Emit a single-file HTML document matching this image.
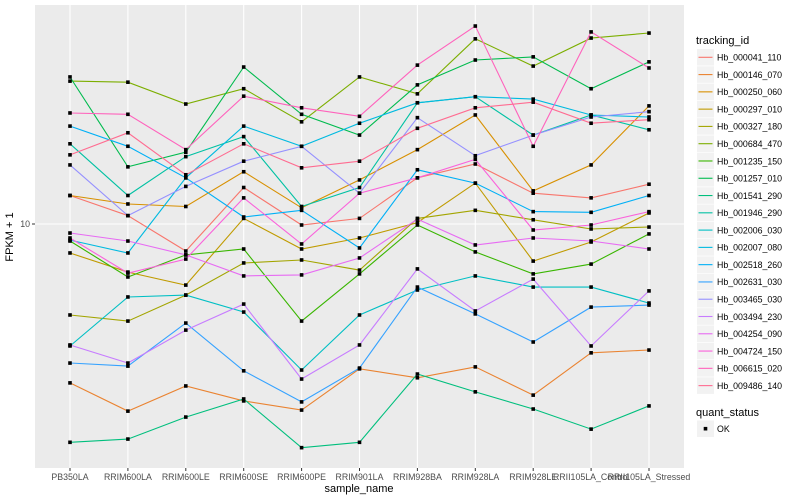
<!DOCTYPE html>
<html><head><meta charset="utf-8">
<style>
body{margin:0;background:#fff;}
svg{display:block;font-family:"Liberation Sans",sans-serif;}
</style></head>
<body>
<svg id="chart" width="800" height="500" viewBox="0 0 800 500">
  <rect x="0" y="0" width="800" height="500" fill="#fff"/>
  <rect x="35" y="5" width="649" height="463" fill="#EBEBEB"/>
  <g id="grid"></g>
  <g id="series"></g>
  <g id="axes"></g>
  <text x="13" y="237" transform="rotate(-90 13 237)" text-anchor="middle" font-size="11" fill="#000">FPKM + 1</text>
  <text x="359" y="492" text-anchor="middle" font-size="11" fill="#000">sample_name</text>
  <g id="legend"></g>
</svg>
<script>
const categories = ["PB350LA","RRIM600LA","RRIM600LE","RRIM600SE","RRIM600PE","RRIM901LA","RRIM928BA","RRIM928LA","RRIM928LE","RRII105LA_Control","RRII105LA_Stressed"];
const seriesNames = ["Hb_000041_110","Hb_000146_070","Hb_000250_060","Hb_000297_010","Hb_000327_180","Hb_000684_470","Hb_001235_150","Hb_001257_010","Hb_001541_290","Hb_001946_290","Hb_002006_030","Hb_002007_080","Hb_002518_260","Hb_002631_030","Hb_003465_030","Hb_003494_230","Hb_004254_090","Hb_004724_150","Hb_006615_020","Hb_009486_140"];
const seriesColors = ["#F8766D","#EA8331","#D89000","#C09B00","#A3A500","#7CAE00","#39B600","#00BB4E","#00BF7D","#00C1A3","#00BFC4","#00BAE0","#00B0F6","#35A2FF","#9590FF","#C77CFF","#E76BF3","#FA62DB","#FF62BC","#FF6C91"];
const s000041_110 = [12.2,10.6,8.28,12.9,9.93,10.4,13.8,15.2,12.4,12.0,13.2];
const s000146_070 = [3.30,2.71,3.23,2.91,2.73,3.64,3.42,3.69,3.03,4.07,4.15];
const s000250_060 = [12.2,11.5,11.3,14.4,11.2,13.6,16.8,21.4,12.6,15.1,22.8];
const s000297_010 = [8.17,7.15,6.53,10.4,8.40,9.07,10.1,13.3,7.72,8.82,10.8];
const s000327_180 = [5.30,5.08,6.09,7.62,7.78,7.25,10.4,11.0,10.3,9.66,9.79];
const s000684_470 = [27.1,26.9,23.1,25.7,20.4,27.9,24.8,36.4,30.1,36.6,37.9];
const s001235_150 = [8.88,6.91,8.06,8.40,5.08,7.06,9.93,8.23,7.06,7.56,9.33];
const s001257_010 = [27.9,14.9,16.5,29.9,21.5,18.6,26.4,31.4,32.1,25.7,31.0];
const s001541_290 = [2.18,2.23,2.60,2.95,2.10,2.18,3.51,3.10,2.75,2.39,2.81];
const s001946_290 = [17.5,12.2,16.0,18.4,11.3,12.9,23.3,24.3,18.6,21.4,19.3];
const s002006_030 = [4.27,6.01,6.09,5.41,3.61,5.30,6.31,6.96,6.44,6.44,5.76];
const s002007_080 = [8.94,8.17,13.8,19.8,17.2,20.2,23.3,24.3,23.9,21.4,21.1];
const s002518_260 = [19.8,17.2,13.8,10.5,11.0,8.46,14.6,13.3,10.9,10.85,12.2];
const s002631_030 = [3.79,3.71,5.01,3.59,2.89,3.66,6.44,5.34,4.39,5.60,5.68];
const s003465_030 = [15.1,10.6,13.0,15.5,17.2,12.4,21.0,16.1,18.6,21.1,21.9];
const s003494_230 = [4.30,3.79,4.77,5.72,3.39,4.30,7.31,5.45,6.81,4.27,6.27];
const s004254_090 = [9.39,8.88,8.06,6.96,7.01,7.89,10.35,8.64,9.07,8.88,8.40];
const s004724_150 = [9.07,7.10,7.83,12.0,8.70,12.4,13.8,15.7,9.59,9.93,10.9];
const s006615_020 = [21.7,21.5,16.8,24.4,22.5,21.2,30.3,39.8,17.2,38.2,29.7];
const s009486_140 = [16.2,18.9,14.1,17.5,14.8,15.5,19.5,22.5,23.4,20.2,20.7];
const seriesValues = [s000041_110,s000146_070,s000250_060,s000297_010,s000327_180,s000684_470,s001235_150,s001257_010,s001541_290,s001946_290,s002006_030,s002007_080,s002518_260,s002631_030,s003465_030,s003494_230,s004254_090,s004724_150,s006615_020,s009486_140];
const yTicks = [10];
const yTickLabels = ["10"];

const NS = "http://www.w3.org/2000/svg";
function xScale(i){ return 70 + i * 57.9; }
function yScale(v){ return 224 - 330 * (Math.log10(v) - 1); }
function mk(tag, attrs, parent){
  const e = document.createElementNS(NS, tag);
  for (const k in attrs) e.setAttribute(k, attrs[k]);
  parent.appendChild(e);
  return e;
}
const grid = document.getElementById('grid');
const axes = document.getElementById('axes');
const series = document.getElementById('series');
const legend = document.getElementById('legend');

categories.forEach((c, i) => {
  const x = xScale(i);
  const gl = mk('line', {x1:x, x2:x, y1:5, y2:468, stroke:'#fff', 'stroke-width':1.1}, grid);
  
  
  const tk = mk('line', {x1:x, x2:x, y1:468, y2:471, stroke:'#333', 'stroke-width':1}, axes);
  
  
  const t = mk('text', {x:x, y:480, 'text-anchor':'middle', 'font-size':'8.8', fill:'#4D4D4D'}, axes);
  t.textContent = c;
  
  
});
yTicks.forEach((v, i) => {
  const y = yScale(v);
  const gl = mk('line', {x1:35, x2:684, y1:y, y2:y, stroke:'#fff', 'stroke-width':1.1}, grid);
  
  
  const tk = mk('line', {x1:32, x2:35, y1:y, y2:y, stroke:'#333', 'stroke-width':1}, axes);
  
  
  const t = mk('text', {x:30, y:y+3.2, 'text-anchor':'end', 'font-size':'8.8', fill:'#4D4D4D'}, axes);
  t.textContent = yTickLabels[i];
  
  
});

seriesValues.forEach((vals, si) => {
  const g = mk('g', {}, series);
  
  
  const pts = vals.map((v, i) => xScale(i).toFixed(1) + ',' + yScale(v).toFixed(1)).join(' ');
  const pl = mk('polyline', {points:pts, fill:'none', stroke:seriesColors[si], 'stroke-width':1.1}, g);
  
  
});
seriesValues.forEach((vals) => {
  vals.forEach((v, i) => {
    const p = mk('rect', {x:xScale(i)-1.8, y:yScale(v)-1.8, width:3.6, height:3.6, fill:'#000'}, series);
    
    
  });
});

const lt = mk('text', {x:696, y:44, 'font-size':'11', fill:'#000'}, legend);
lt.textContent = 'tracking_id';


seriesNames.forEach((n, i) => {
  const cy = 57.3 + i * 17.28;
  const g = mk('g', {}, legend);
  
  
  mk('rect', {x:697, y:cy-8.3, width:17, height:16.6, fill:'#F2F2F2'}, g);
  mk('line', {x1:698.5, x2:712.5, y1:cy, y2:cy, stroke:seriesColors[i], 'stroke-width':1.1}, g);
  const t = mk('text', {x:717, y:cy+3.3, 'font-size':'8.8', fill:'#000'}, g);
  t.textContent = n;
});
const qt = mk('text', {x:696, y:416, 'font-size':'11', fill:'#000'}, legend);
qt.textContent = 'quant_status';


const qg = mk('g', {}, legend);


mk('rect', {x:697, y:420.4, width:17, height:16.6, fill:'#F2F2F2'}, qg);
mk('rect', {x:703.7, y:426.9, width:3.6, height:3.6, fill:'#000'}, qg);
const qtx = mk('text', {x:717, y:432, 'font-size':'8.8', fill:'#000'}, qg);
qtx.textContent = 'OK';
</script>
</body></html>
